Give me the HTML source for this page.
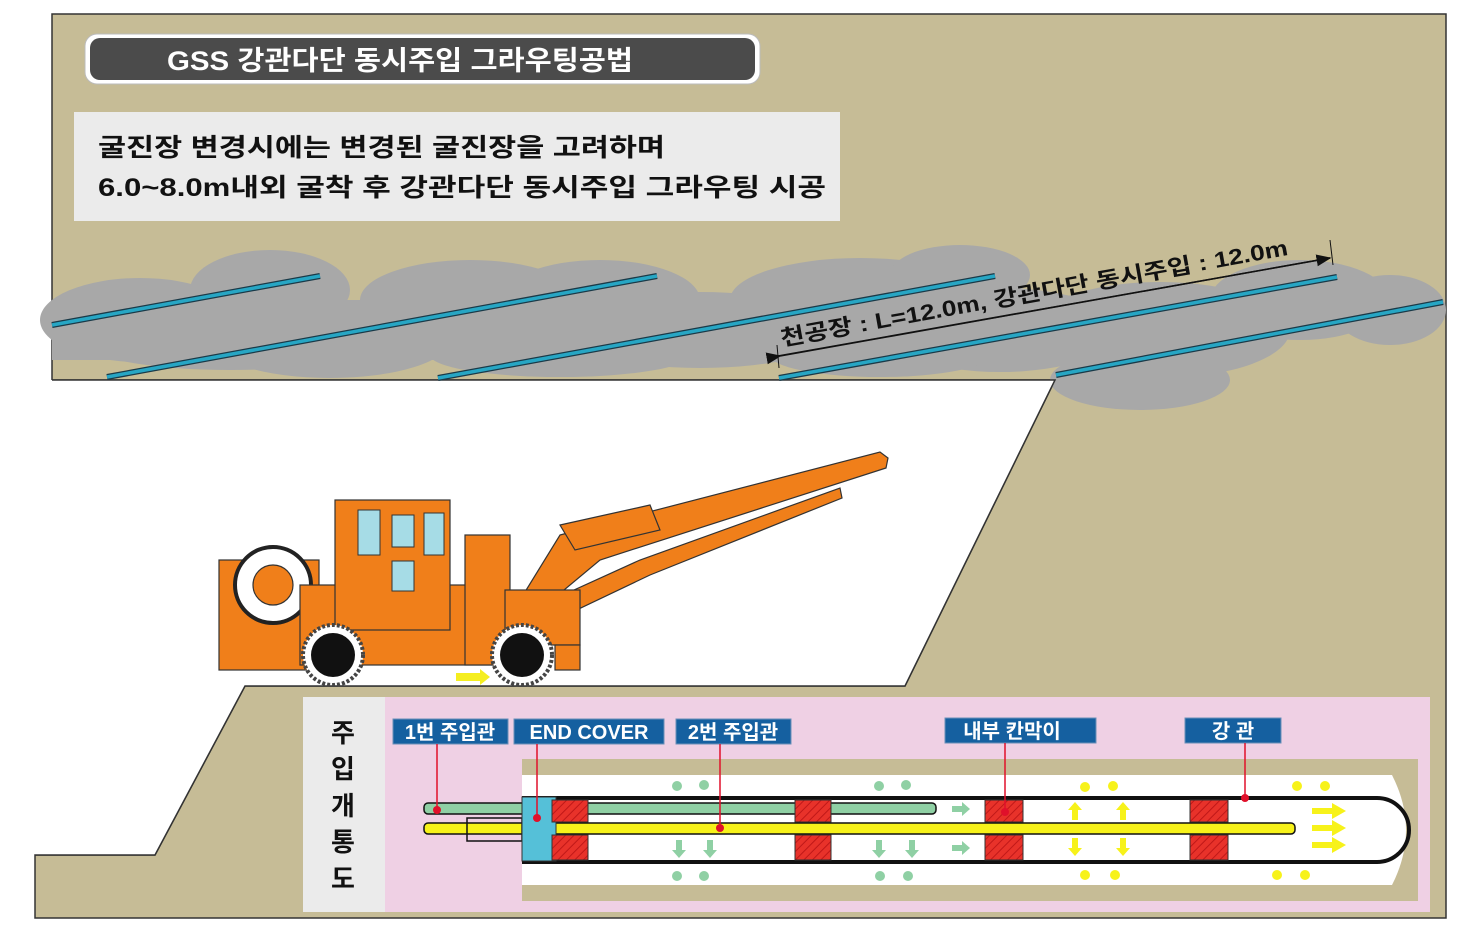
<!DOCTYPE html>
<html><head><meta charset="utf-8"><style>
html,body{margin:0;padding:0;background:#fff;}
svg{display:block;font-family:"Liberation Sans","Noto Sans CJK KR",sans-serif;}
</style></head><body>
<svg width="1458" height="932" viewBox="0 0 1458 932" xmlns="http://www.w3.org/2000/svg">
<defs>
<pattern id="hatch" width="6" height="6" patternUnits="userSpaceOnUse" patternTransform="rotate(45)">
<rect width="6" height="6" fill="#e8322a"/><line x1="0" y1="0" x2="0" y2="6" stroke="#c01818" stroke-width="2"/></pattern>
<marker id="ah" markerWidth="10" markerHeight="8" refX="9" refY="4" orient="auto"><path d="M0,0 L10,4 L0,8z" fill="#111"/></marker>
</defs>
<polygon points="52,14 1446,14 1446,918 35,918 35,855 155,855 245,686 905,686 1055,380 52,380" fill="#c6bc96" stroke="#333" stroke-width="1.5"/>
<g fill="#a8a8a8">
<ellipse cx="140" cy="320" rx="100" ry="42"/><ellipse cx="270" cy="290" rx="80" ry="40"/>
<ellipse cx="330" cy="340" rx="120" ry="38"/><ellipse cx="470" cy="300" rx="110" ry="40"/>
<ellipse cx="600" cy="300" rx="100" ry="40"/><ellipse cx="700" cy="330" rx="140" ry="38"/>
<ellipse cx="860" cy="300" rx="130" ry="42"/><ellipse cx="960" cy="275" rx="70" ry="30"/>
<ellipse cx="1000" cy="330" rx="120" ry="42"/><ellipse cx="1160" cy="330" rx="130" ry="48"/>
<ellipse cx="1140" cy="380" rx="90" ry="30"/><ellipse cx="1300" cy="300" rx="90" ry="40"/>
<ellipse cx="1390" cy="310" rx="56" ry="35"/><ellipse cx="230" cy="345" rx="140" ry="25"/>
<ellipse cx="560" cy="355" rx="130" ry="22"/><ellipse cx="880" cy="355" rx="110" ry="22"/>
<rect x="52" y="300" width="1000" height="60"/>
</g>
<polygon points="52,380 1055,380 905,686 245,686 155,855 35,855 35,380" fill="#fff"/>
<polyline points="52,380 1055,380 905,686 245,686 155,855 35,855" fill="none" stroke="#333" stroke-width="1.5"/>
<g stroke-linecap="butt">
<g stroke="#1a3a48" stroke-width="6"><line x1="52" y1="325" x2="320" y2="276"/><line x1="107" y1="377" x2="657" y2="276"/><line x1="438" y1="378" x2="995" y2="276"/><line x1="779" y1="378" x2="1337" y2="277"/><line x1="1056" y1="375" x2="1443" y2="302"/></g>
<g stroke="#27a6c4" stroke-width="3.5"><line x1="52" y1="325" x2="320" y2="276"/><line x1="107" y1="377" x2="657" y2="276"/><line x1="438" y1="378" x2="995" y2="276"/><line x1="779" y1="378" x2="1337" y2="277"/><line x1="1056" y1="375" x2="1443" y2="302"/></g>
</g>
<line x1="778" y1="356" x2="1330" y2="258" stroke="#111" stroke-width="1.5" marker-end="url(#ah)"/>
<line x1="780" y1="356" x2="1330" y2="258" stroke="#111" stroke-width="1.5" marker-start="url(#ah)"/>
<line x1="777" y1="345" x2="779" y2="368" stroke="#111"/><line x1="1330" y1="240" x2="1333" y2="265" stroke="#111"/>
<text transform="translate(782,346) rotate(-10.2)" font-size="22" font-weight="bold" fill="#111" textLength="515" lengthAdjust="spacingAndGlyphs">천공장 : L=12.0m, 강관다단 동시주입 : 12.0m</text>
<rect x="85" y="34" width="675" height="50" rx="12" fill="#fff" stroke="#bbb" stroke-width="1"/>
<rect x="90" y="38" width="665" height="42" rx="10" fill="#4b4b4b"/>
<text x="167" y="70" font-size="27" font-weight="bold" fill="#fff" textLength="466" lengthAdjust="spacingAndGlyphs">GSS 강관다단 동시주입 그라우팅공법</text>
<rect x="74" y="112" width="766" height="109" fill="#ebebeb"/>
<text x="98" y="156" font-size="25" font-weight="bold" fill="#111" textLength="567" lengthAdjust="spacingAndGlyphs">굴진장 변경시에는 변경된 굴진장을 고려하며</text>
<text x="98" y="196" font-size="25" font-weight="bold" fill="#111" textLength="728" lengthAdjust="spacingAndGlyphs">6.0~8.0m내외 굴착 후 강관다단 동시주입 그라우팅 시공</text>
<g stroke="#333" stroke-width="1.2" fill="#f07f1a">
<polygon points="560,535 880,452 888,458 886,468 600,560 540,610 520,600"/>
<polygon points="530,610 640,560 840,488 842,498 650,575 545,625"/>
<polygon points="560,525 650,505 660,530 575,550"/>
<rect x="219" y="560" width="100" height="110"/>
<circle cx="273" cy="585" r="38" fill="#fff" stroke="#222" stroke-width="4"/>
<circle cx="273" cy="585" r="20"/>
<rect x="300" y="585" width="200" height="80"/>
<rect x="335" y="500" width="115" height="130"/>
<rect x="465" y="535" width="45" height="130"/>
<rect x="505" y="590" width="75" height="55"/>
<rect x="555" y="645" width="25" height="25"/>
</g>
<g fill="#a6dce6" stroke="#333"><rect x="358" y="510" width="22" height="45"/><rect x="392" y="515" width="22" height="32"/><rect x="392" y="561" width="22" height="30"/><rect x="424" y="513" width="20" height="42"/></g>
<g><circle cx="333" cy="655" r="30" fill="#fff" stroke="#444" stroke-width="4" stroke-dasharray="3 2"/><circle cx="333" cy="655" r="22" fill="#111"/>
<circle cx="522" cy="655" r="30" fill="#fff" stroke="#444" stroke-width="4" stroke-dasharray="3 2"/><circle cx="522" cy="655" r="22" fill="#111"/></g>
<polygon points="456,673 480,673 480,669 490,677 480,685 480,681 456,681" fill="#f5ee20"/>
<rect x="303" y="697" width="1127" height="215" fill="#efd0e4"/>
<rect x="303" y="697" width="82" height="215" fill="#ebebeb"/>
<g font-size="26" font-weight="bold" fill="#111" text-anchor="middle">
<text x="343" y="742">주</text><text x="343" y="778">입</text><text x="343" y="815">개</text><text x="343" y="851">통</text><text x="343" y="888">도</text></g>
<rect x="522" y="759" width="896" height="142" fill="#c6bc96"/>
<path d="M522,775 H1392 Q1420,830 1392,885 H522 Z" fill="#fff"/>
<path d="M522,798 H1377 A32,32 0 0 1 1377,862 H522" fill="none" stroke="#111" stroke-width="4"/>
<rect x="424" y="803" width="512" height="11" rx="4" fill="#8fd0a4" stroke="#111" stroke-width="1.5"/>
<rect x="424" y="823" width="871" height="11" rx="4" fill="#f7f21a" stroke="#111" stroke-width="1.5"/>
<rect x="467" y="818" width="55" height="23" fill="none" stroke="#111" stroke-width="1.5"/>
<rect x="522" y="797" width="34" height="64" fill="#55c0d8" stroke="#333"/>
<g stroke="#333" stroke-width="1">
<rect x="552" y="800" width="36" height="22" fill="url(#hatch)"/><rect x="552" y="835" width="36" height="25" fill="url(#hatch)"/>
<rect x="795" y="800" width="36" height="22" fill="url(#hatch)"/><rect x="795" y="835" width="36" height="25" fill="url(#hatch)"/>
<rect x="985" y="800" width="38" height="22" fill="url(#hatch)"/><rect x="985" y="835" width="38" height="25" fill="url(#hatch)"/>
<rect x="1190" y="800" width="38" height="22" fill="url(#hatch)"/><rect x="1190" y="835" width="38" height="25" fill="url(#hatch)"/>
</g>
<g fill="#8fd0a4">
<path d="M952,806 h10 v-4 l8,7 l-8,7 v-4 h-10z"/><path d="M952,845 h10 v-4 l8,7 l-8,7 v-4 h-10z"/>
<path d="M676,840 v10 h-4 l7,8 l7,-8 h-4 v-10z"/><path d="M707,840 v10 h-4 l7,8 l7,-8 h-4 v-10z"/>
<path d="M876,840 v10 h-4 l7,8 l7,-8 h-4 v-10z"/><path d="M909,840 v10 h-4 l7,8 l7,-8 h-4 v-10z"/>
<circle cx="677" cy="786" r="5"/><circle cx="704" cy="785" r="5"/><circle cx="879" cy="786" r="5"/><circle cx="906" cy="785" r="5"/>
<circle cx="677" cy="876" r="5"/><circle cx="704" cy="876" r="5"/><circle cx="880" cy="876" r="5"/><circle cx="908" cy="876" r="5"/>
</g>
<g fill="#f7f21a">
<path d="M1072,820 v-10 h-4 l7,-8 l7,8 h-4 v10z"/><path d="M1120,820 v-10 h-4 l7,-8 l7,8 h-4 v10z"/>
<path d="M1072,838 v10 h-4 l7,8 l7,-8 h-4 v-10z"/><path d="M1120,838 v10 h-4 l7,8 l7,-8 h-4 v-10z"/>
<path d="M1312,808 h20 v-5 l14,8 l-14,8 v-5 h-20z"/><path d="M1312,825 h20 v-5 l14,8 l-14,8 v-5 h-20z"/><path d="M1312,842 h20 v-5 l14,8 l-14,8 v-5 h-20z"/>
<circle cx="1085" cy="787" r="5"/><circle cx="1113" cy="786" r="5"/><circle cx="1297" cy="786" r="5"/><circle cx="1325" cy="786" r="5"/>
<circle cx="1085" cy="875" r="5"/><circle cx="1115" cy="875" r="5"/><circle cx="1277" cy="875" r="5"/><circle cx="1305" cy="875" r="5"/>
</g>
<g fill="#1560a0" stroke="#6a8fb8" stroke-width="1">
<rect x="393" y="719" width="115" height="25"/><rect x="514" y="719" width="150" height="25"/><rect x="676" y="719" width="115" height="25"/>
<rect x="945" y="718" width="151" height="25"/><rect x="1185" y="718" width="96" height="25"/></g>
<g fill="#fff" font-size="20" font-weight="bold" text-anchor="middle">
<text x="450" y="739">1번 주입관</text><text x="589" y="739">END COVER</text><text x="733" y="739">2번 주입관</text>
<text x="1012" y="738">내부 칸막이</text><text x="1233" y="738">강  관</text></g>
<g stroke="#e0102a" stroke-width="1.5"><line x1="437" y1="744" x2="437" y2="810"/><line x1="537" y1="744" x2="537" y2="818"/><line x1="720" y1="744" x2="720" y2="828"/><line x1="1005" y1="743" x2="1005" y2="812"/><line x1="1245" y1="743" x2="1245" y2="798"/></g>
<g fill="#e0102a"><circle cx="437" cy="810" r="4"/><circle cx="537" cy="818" r="4"/><circle cx="720" cy="828" r="4"/><circle cx="1005" cy="812" r="4"/><circle cx="1245" cy="798" r="4"/></g>
</svg>
</body></html>
